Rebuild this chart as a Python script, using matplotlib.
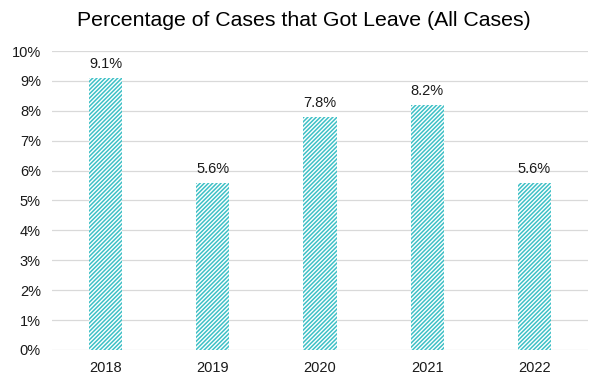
import matplotlib
matplotlib.use("Agg")
import matplotlib.pyplot as plt
from matplotlib.ticker import PercentFormatter

years = ["2018", "2019", "2020", "2021", "2022"]
values = [9.1, 5.6, 7.8, 8.2, 5.6]
labels = ["9.1%", "5.6%", "7.8%", "8.2%", "5.6%"]

plt.rcParams['font.family'] = ['Liberation Sans', 'DejaVu Sans']
plt.rcParams['hatch.linewidth'] = 1.1

fig = plt.figure(figsize=(6.07, 3.85), dpi=100)
ax = fig.add_axes([0.0857, 0.091, 0.883, 0.7765])
teal = "#3EC0C6"
x = range(len(years))
bars = ax.bar(x, values, width=0.31, color="white", edgecolor=teal, hatch="////////", linewidth=0, zorder=3)
for xi, v, lab in zip(x, values, labels):
    ax.text(xi, v + 0.22, lab, ha="center", va="bottom", fontsize=10.5, color="#1a1a1a")
ax.set_xlim(-0.5, len(years) - 0.5)
ax.set_ylim(0, 10)
ax.set_yticks(range(0, 11))
ax.yaxis.set_major_formatter(PercentFormatter(decimals=0))
ax.set_xticks(list(x))
ax.set_xticklabels(years)
ax.tick_params(axis='both', length=0, labelsize=10.5, colors="#1a1a1a", pad=8)
ax.grid(axis='y', color="#D9D9D9", linewidth=0.9, zorder=0)
for s in ax.spines.values():
    s.set_visible(False)
fig.suptitle("Percentage of Cases that Got Leave (All Cases)", fontsize=15.3, y=0.972, color="#000000")
fig.savefig("out.png", dpi=100)
